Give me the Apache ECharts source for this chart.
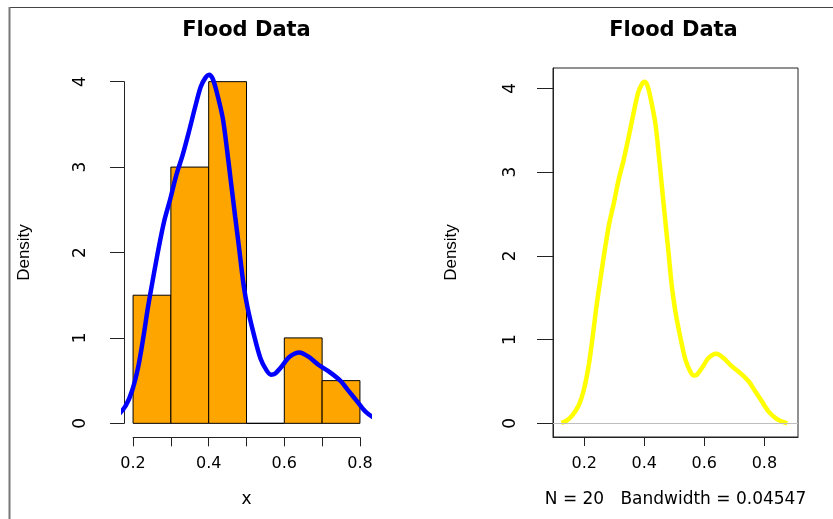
<!DOCTYPE html>
<html>
<head>
<meta charset="utf-8">
<title>Flood Data</title>
<script src="https://cdn.jsdelivr.net/npm/echarts@6/dist/echarts.min.js"></script>
<style>
  html, body { margin: 0; padding: 0; background: #fff; }
  #main { width: 833px; height: 519px; }
</style>
</head>
<body>
<div id="main"></div>
<script>
// histogram: bin edges and density heights
const binStart = [0.2, 0.3, 0.4, 0.5, 0.6, 0.7]
const binEnd = [0.3, 0.4, 0.5, 0.6, 0.7, 0.8]
const binDensity = [1.5, 3, 4, 0, 1, 0.5]

// kernel density estimate
const densX = [0.124, 0.14, 0.159, 0.181, 0.198, 0.214, 0.228, 0.239, 0.253, 0.268,
  0.283, 0.298, 0.314, 0.331, 0.348, 0.364, 0.379, 0.392, 0.401, 0.41,
  0.42, 0.437, 0.448, 0.459, 0.47, 0.481, 0.492, 0.503, 0.52, 0.537,
  0.553, 0.565, 0.575, 0.592, 0.614, 0.64, 0.664, 0.692, 0.72, 0.748,
  0.77, 0.792, 0.814, 0.842, 0.86, 0.876]
const densY = [0.005, 0.03, 0.09, 0.21, 0.39, 0.67, 1.03, 1.35, 1.70, 2.06,
  2.38, 2.62, 2.90, 3.14, 3.42, 3.70, 3.94, 4.05, 4.08, 4.04,
  3.90, 3.58, 3.22, 2.82, 2.42, 2.03, 1.63, 1.35, 1.03, 0.76,
  0.62, 0.57, 0.58, 0.66, 0.78, 0.83, 0.78, 0.68, 0.60, 0.50,
  0.38, 0.26, 0.14, 0.05, 0.02, 0.0]

const histXTicks = [0.2, 0.3, 0.4, 0.5, 0.6, 0.7, 0.8]
const xLabels = [0.2, 0.4, 0.6, 0.8]
const yLabels = [0, 1, 2, 3, 4]
const titleText = 'Flood Data'
const densSubtitle = 'N = 20   Bandwidth = 0.04547'

// plot regions (R style: data range padded by 4%)
const histXRange = [0.176, 0.824]
const histYRange = [-0.16, 4.16]
const densXRange = [0.096, 0.912]
const densYRange = [-0.163, 4.243]
const plotTop = 68
const plotW = 245
const plotH = 369
const leftPlotX = 124
const rightPlotX = 553

// the histogram's axes only cover the tick range, so they live in their own grid
function innerGrid () {
  const sx = plotW / (histXRange[1] - histXRange[0])
  const sy = plotH / (histYRange[1] - histYRange[0])
  return {
    left: leftPlotX + (0.2 - histXRange[0]) * sx,
    width: 0.6 * sx,
    top: plotTop + (histYRange[1] - 4) * sy,
    height: 4 * sy
  }
}

const pairs = densX.map((x, i) => [x, densY[i]])
const bins = binStart.map((s, i) => [s, binEnd[i], binDensity[i]])

const axisColor = '#222'
const labelFont = { color: '#000', fontFamily: 'DejaVu Sans', fontSize: 16 }
const titleFont = { fontFamily: 'DejaVu Sans', fontWeight: 'bold', fontSize: 21, color: '#000' }
const densityName = { color: '#000', fontFamily: 'Liberation Sans', fontSize: 17 }

function renderBin (params, api) {
  const top = api.coord([api.value(0), api.value(2)])
  const bottom = api.coord([api.value(1), 0])
  return {
    type: 'rect',
    shape: { x: top[0], y: top[1], width: bottom[0] - top[0], height: bottom[1] - top[1] },
    style: { fill: '#FFA500', stroke: '#000', lineWidth: 1 }
  }
}

const g = innerGrid()
let chart = echarts.init(document.getElementById('main'), null, { renderer: 'canvas' })
chart.setOption({
  backgroundColor: '#fff',
  animation: false,
  title: [
    { text: titleText, left: leftPlotX + plotW / 2, textAlign: 'center', top: 20, padding: 0, textStyle: titleFont },
    { text: titleText, left: rightPlotX + plotW / 2 - 2, textAlign: 'center', top: 20, padding: 0, textStyle: titleFont }
  ],
  grid: [
    { left: leftPlotX, top: plotTop, width: plotW, height: plotH },
    { left: g.left, top: g.top, width: g.width, height: g.height },
    { left: rightPlotX, top: plotTop, width: plotW, height: plotH, show: true,
      borderColor: axisColor, borderWidth: 1, backgroundColor: 'transparent' }
  ],
  xAxis: [
    { gridIndex: 0, type: 'value', min: histXRange[0], max: histXRange[1], show: false },
    {
      gridIndex: 1, type: 'value', min: 0.2, max: 0.8, offset: 14,
      name: 'x', nameLocation: 'middle', nameGap: 54,
      nameTextStyle: { color: '#000', fontFamily: 'DejaVu Sans', fontSize: 17 },
      axisLine: { onZero: false, lineStyle: { color: axisColor, width: 1 } },
      axisTick: { length: 9, customValues: histXTicks, lineStyle: { color: axisColor } },
      axisLabel: Object.assign({ customValues: xLabels, margin: 19 }, labelFont),
      splitLine: { show: false }
    },
    {
      gridIndex: 2, type: 'value', min: densXRange[0], max: densXRange[1],
      name: densSubtitle, nameLocation: 'middle', nameGap: 54,
      nameTextStyle: { color: '#000', fontFamily: 'DejaVu Sans', fontSize: 17 },
      axisLine: { onZero: false, lineStyle: { color: axisColor, width: 1 } },
      axisTick: { length: 9, customValues: xLabels, lineStyle: { color: axisColor } },
      axisLabel: Object.assign({ customValues: xLabels, margin: 19 }, labelFont),
      splitLine: { show: false }
    }
  ],
  yAxis: [
    { gridIndex: 0, type: 'value', min: histYRange[0], max: histYRange[1], show: false },
    {
      gridIndex: 1, type: 'value', min: 0, max: 4, interval: 1, offset: 9,
      name: 'Density', nameLocation: 'middle', nameGap: 91, nameTextStyle: densityName,
      axisLine: { show: true, onZero: false, lineStyle: { color: axisColor, width: 1 } },
      axisTick: { show: true, length: 14, lineStyle: { color: axisColor } },
      axisLabel: Object.assign({ rotate: 90, margin: 35 }, labelFont, { fontSize: 17 }),
      splitLine: { show: false }
    },
    {
      gridIndex: 2, type: 'value', min: densYRange[0], max: densYRange[1],
      name: 'Density', nameLocation: 'middle', nameGap: 93, nameTextStyle: densityName,
      axisLine: { show: true, onZero: false, lineStyle: { color: axisColor, width: 1 } },
      axisTick: { show: true, length: 16, customValues: yLabels, lineStyle: { color: axisColor } },
      axisLabel: Object.assign({ rotate: 90, margin: 34, customValues: yLabels }, labelFont, { fontSize: 17 }),
      splitLine: { show: false }
    }
  ],
  series: [
    {
      type: 'custom', xAxisIndex: 0, yAxisIndex: 0,
      renderItem: renderBin,
      encode: { x: [0, 1], y: 2 },
      data: bins,
      z: 2
    },
    {
      type: 'line', xAxisIndex: 0, yAxisIndex: 0,
      data: pairs, smooth: 0.3, showSymbol: false, clip: true,
      lineStyle: { color: '#0000FF', width: 4.5 },
      z: 3
    },
    {
      type: 'line', xAxisIndex: 2, yAxisIndex: 2,
      data: pairs, smooth: 0.3, showSymbol: false, clip: true,
      lineStyle: { color: '#FFFF00', width: 4.5 },
      markLine: {
        silent: true, symbol: 'none',
        label: { show: false },
        lineStyle: { color: '#bebebe', width: 1, type: 'solid' },
        data: [{ yAxis: 0 }]
      },
      z: 3
    }
  ],
  graphic: [
    // outer frame of the screenshot
    { type: 'line', shape: { x1: 9, y1: 7.5, x2: 833, y2: 7.5 }, style: { stroke: '#444', lineWidth: 1 } },
    { type: 'line', shape: { x1: 9.5, y1: 7, x2: 9.5, y2: 519 }, style: { stroke: '#777', lineWidth: 2 } }
  ]
})
</script>
</body>
</html>
